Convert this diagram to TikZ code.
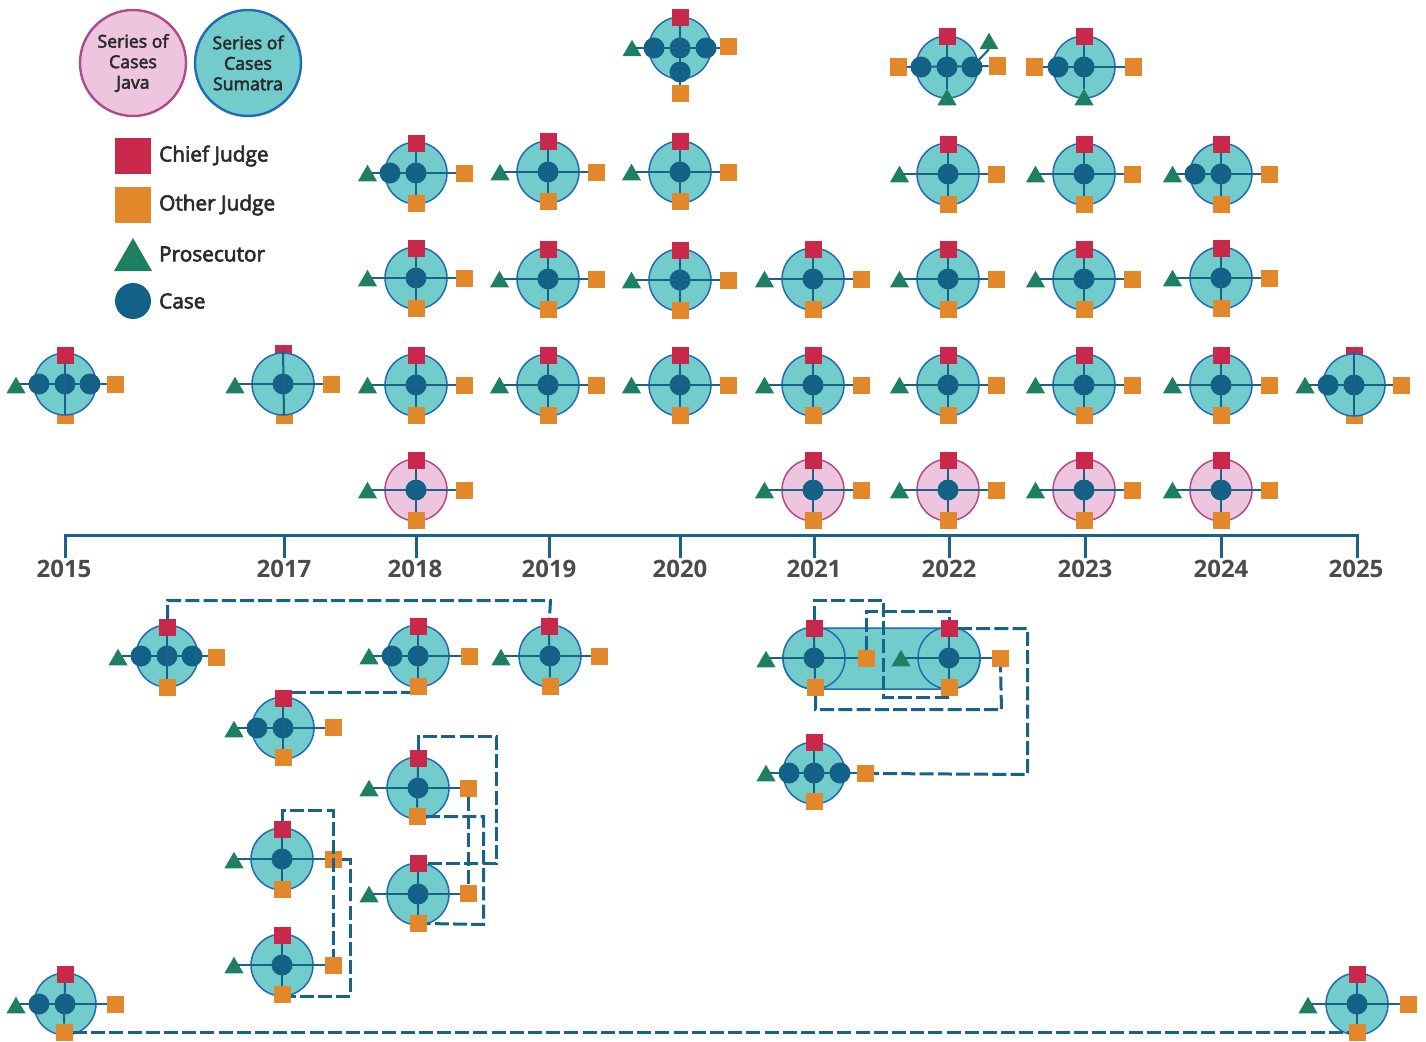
\documentclass[tikz,border=0pt]{standalone}
\usepackage{fontspec}
\setmainfont{Open Sans}
\newfontfamily\medfont[FakeBold=3]{Open Sans}
\usetikzlibrary{shapes.geometric,calc}
\definecolor{chiefc}{HTML}{C9284A}
\definecolor{otherc}{HTML}{E2872A}
\definecolor{prosc}{HTML}{1E7F62}
\definecolor{casec}{HTML}{136187}
\definecolor{linkc}{HTML}{1A6388}
\definecolor{tealf}{HTML}{72CCCC}
\definecolor{teals}{HTML}{2469B3}
\definecolor{pinkf}{HTML}{EEC5DE}
\definecolor{pinks}{HTML}{B04A8A}
\definecolor{textc}{HTML}{2B2B2B}
\tikzset{
 sq/.style={rectangle,draw=none,inner sep=0pt,outer sep=0pt,minimum size=17pt},
 cjsq/.style={sq,fill=chiefc},
 ojsq/.style={sq,fill=otherc},
 pros/.style={regular polygon,regular polygon sides=3,draw=none,fill=prosc,inner sep=0pt,outer sep=0pt,minimum size=22pt,yshift=-2.75pt},
 casedot/.style={circle,draw=none,fill=casec,inner sep=0pt,outer sep=0pt,minimum size=21pt},
 sumatra/.style={circle,draw=teals,fill=tealf,line width=1.5pt,inner sep=0pt,outer sep=0pt,minimum size=62pt},
 java/.style={circle,draw=pinks,fill=pinkf,line width=1.5pt,inner sep=0pt,outer sep=0pt,minimum size=62pt},
 spoke/.style={draw=linkc,line width=2pt},
 link/.style={draw=linkc,line width=3pt,dash pattern=on 14pt off 4.2pt,line join=miter},
 axisline/.style={draw=linkc,line width=3pt},
 yearlab/.style={font=\fontsize{24}{24}\selectfont\bfseries,text=textc!85,inner sep=0pt},
 leglab/.style={font=\medfont\fontsize{20.8}{24}\selectfont,text=textc,anchor=west,inner sep=0pt},
 legdisc/.style={circle,line width=2.4pt,inner sep=0pt,minimum size=106pt,align=center,text=textc,font=\medfont\fontsize{17.7}{20.5}\selectfont},
 halfpx/.style={transform canvas={shift={(0.5pt,-0.5pt)}}},
}
\newif\ifcb
\newif\ifob
% name, centre, disc style, chief, other, right judge, prosecutor
\newcommand\caseunit[7]{%
 \ifcb\node[cjsq] (#1c) at (#4) {};\fi
 \ifob\node[ojsq] (#1o) at (#5) {};\fi
 \node[#3] (#1d) at (#2) {};
 \ifcb\else\node[cjsq] (#1c) at (#4) {};\fi
 \ifob\else\node[ojsq] (#1o) at (#5) {};\fi
 \node[ojsq] (#1r) at (#6) {};
 \node[pros] (#1t) at (#7) {};
 \node[casedot] (#1m) at (#2) {};
 \draw[spoke] ([xshift=4pt]#1t.center |- #1m) -- (#1r.west |- #1m);
 \ifcb\draw[spoke] ([yshift=4pt]#1c.center) -- (#1o.center);
 \else\ifob\draw[spoke] (#1c.south) -- (#1o.center);
 \else\draw[spoke] (#1c.south) -- (#1o.north);\fi\fi
}
\newcommand\std[4]{\caseunit{#1}{#2,#3}{#4}{{#2},{#3-30}}{{#2},{#3+30}}{{#2+48.5},{#3}}{{#2-48.5},{#3}}}
\newcommand\xdisc[2]{\node[casedot] (#1) at (#2) {};}
\begin{document}
\begin{tikzpicture}[x=1pt,y=-1pt]
\useasboundingbox (0,0) rectangle (1426,1041);
% legend
\node[legdisc,draw=pinks,fill=pinkf] (ljava) at (133,63) {\raisebox{-1.5pt}{Series of}\\\raisebox{-1.5pt}{Cases}\\\raisebox{-1.5pt}{Java}};
\node[legdisc,draw=teals,fill=tealf] (lsum) at (248,63) {\raisebox{-1.5pt}{Series of}\\\raisebox{-1.5pt}{Cases}\\\raisebox{-1.5pt}{Sumatra}};
\node[sq,fill=chiefc,minimum size=36pt] (lcj) at (133,156) {};
\node[sq,fill=otherc,minimum size=36pt] (loj) at (133,205) {};
\node[regular polygon,regular polygon sides=3,fill=prosc,inner sep=0pt,minimum size=44pt,yshift=-5.5pt] (lpr) at (133,254.5) {};
\node[casedot,minimum size=36pt] (lca) at (133,301) {};
\node[leglab] (tcj) at (159,156) {Chief Judge};
\node[leglab] (toj) at (159,205) {Other Judge};
\node[leglab] (tpr) at (159,254) {Prosecutor};
\node[leglab] (tca) at (159,301) {Case};
% top specials
\node[sumatra] (u1d) at (680,48) {};
\node[cjsq] (u1c) at (680,18) {};
\node[ojsq] (u1o) at (680,93) {};
\node[ojsq] (u1r) at (728,47) {};
\node[pros] (u1t) at (632,48) {};
\node[casedot] (u1m) at (680,48) {};
\draw[spoke] ([xshift=4pt]u1t.center |- u1m) -- (u1r.west |- u1m);
\draw[spoke] (u1c) -- (u1o);
\xdisc{u1a}{654,48}\xdisc{u1b}{706,48}\xdisc{u1e}{680,72}
%
\node[sumatra] (u2d) at (947,67) {};
\node[cjsq] (u2c) at (947,37) {};
\node[ojsq] (u2l) at (898,67) {};
\node[ojsq] (u2r) at (997,66) {};
\node[pros] (u2t) at (947,97) {};
\node[pros] (u2u) at (989,41) {};
\node[casedot] (u2m) at (947,67) {};
\draw[spoke] (u2l) -- (u2r);
\draw[spoke] (u2c.south) -- (u2t.north);
\xdisc{u2a}{921,67}\xdisc{u2b}{972,67}
\draw[spoke] (u2b.center) -- (u2u.south);
%
\node[sumatra] (u3d) at (1084,67) {};
\node[cjsq] (u3c) at (1084,37) {};
\node[ojsq] (u3l) at (1034,67) {};
\node[ojsq] (u3r) at (1133,67) {};
\node[pros] (u3t) at (1084,97) {};
\node[casedot] (u3m) at (1084,67) {};
\draw[spoke] (u3l) -- (u3r);
\draw[spoke] (u3c.south) -- (u3t.north);
\xdisc{u3a}{1058,67}
% row 173
\std{a1}{416}{173}{sumatra}\xdisc{a1x}{390,173}
\caseunit{a2}{548,172}{sumatra}{548,141}{548,201}{596.5,172}{500,172}
\caseunit{a3}{680,172}{sumatra}{680,141}{680,201}{728.5,172}{631.5,172}
\std{a4}{948}{174}{sumatra}
\std{a5}{1084}{174}{sumatra}
\std{a6}{1221}{174}{sumatra}\xdisc{a6x}{1195,174}
% row 278
\std{b1}{416}{278}{sumatra}
\std{b2}{548}{279}{sumatra}
\std{b3}{680}{280}{sumatra}
\std{b4}{813}{279}{sumatra}
\std{b5}{948}{279}{sumatra}
\std{b6}{1084}{279}{sumatra}
\std{b7}{1221}{278}{sumatra}
% row 385
\obtrue
\caseunit{c0}{65,384}{sumatra}{65,355}{65,415}{115,384}{16,385}\xdisc{c0x}{39,384}\xdisc{c0y}{90,384}
\cbtrue
\caseunit{c1}{283,384}{sumatra}{283,353.5}{284,415}{331,384}{235,385}
\cbfalse\obfalse
\std{c2}{416}{385}{sumatra}
\std{c3}{548}{385}{sumatra}
\std{c4}{680}{385}{sumatra}
\std{c5}{813}{385}{sumatra}
\std{c6}{948}{385}{sumatra}
\std{c7}{1084}{385}{sumatra}
\std{c8}{1221}{385}{sumatra}
\cbtrue\obtrue
\caseunit{c9}{1354,385}{sumatra}{1354,355}{1354,415}{1401,385}{1305,385}\xdisc{c9x}{1328,385}
\cbfalse\obfalse
% row 490
\std{j1}{416}{490}{java}
\std{j2}{813}{490}{java}
\std{j3}{948}{490}{java}
\std{j4}{1084}{490}{java}
\std{j5}{1221}{490}{java}
% timeline
\foreach \nm/\x in {t15/65,t17/284,t18/416,t19/549,t20/680,t21/814,t22/949,t23/1085,t24/1221,t25/1357}{
 \coordinate (\nm) at (\x,535);
 \coordinate (\nm e) at (\x,557);
}
\draw[axisline,halfpx] ([xshift=-1.5pt]t15) -- ([xshift=1.5pt]t25);
\foreach \nm in {t15,t17,t18,t19,t20,t21,t22,t23,t24,t25}{\draw[axisline,halfpx] (\nm) -- (\nm e);}
\foreach \nm/\x/\y in {y15/64/2015,y17/284/2017,y18/415/2018,y19/549/2019,y20/680/2020,y21/814/2021,y22/949/2022,y23/1085/2023,y24/1221/2024,y25/1356/2025}{
 \node[yearlab] (\nm) at (\x,568.5) {\y};
}
% lower units
\caseunit{A}{167,656}{sumatra}{167,627}{167,687}{216,657}{118,657}\xdisc{Ax}{141,656}\xdisc{Ay}{192,656}
\caseunit{B}{418,656}{sumatra}{418,626}{418,686}{469,656}{369,656}\xdisc{Bx}{392,656}
\caseunit{C}{550,656}{sumatra}{549,626}{550,686}{599,656}{501,657}
\caseunit{D}{283,728}{sumatra}{283,698}{283,757}{333,727}{234,729}\xdisc{Dx}{257,728}
\caseunit{E}{418,788}{sumatra}{418,758}{417,816}{468,788}{369,788}
\caseunit{F}{418,894}{sumatra}{418,863}{418,923}{468,893}{369,894}
\caseunit{G}{282,859}{sumatra}{282,829}{282,889}{333,859}{234,860}
\caseunit{H}{282,965}{sumatra}{282,935}{282,994}{333,965}{234,965}
\caseunit{I}{65,1004}{sumatra}{65,974}{64,1032}{115,1004}{16,1005}\xdisc{Ix}{39,1004}
\caseunit{J}{1357,1004}{sumatra}{1357,974}{1357,1032}{1408,1004}{1308,1005}
\node[rectangle,draw=teals,fill=tealf,line width=1.5pt,rounded corners=30.5pt,minimum width=197pt,minimum height=61pt,inner sep=0pt] (KL) at (881.5,658.5) {};
\caseunit{K}{814,658}{sumatra}{814,628}{815,687}{866,658}{766,659}
\caseunit{L}{949,658}{sumatra}{949,628}{949,687}{1000,658}{901,658}
\caseunit{M}{814,773}{sumatra}{814,742}{814,801}{865,773}{766,773}\xdisc{Mx}{789,773}\xdisc{My}{840,773}
% dashed connectors
\begin{scope}[halfpx]
\draw[link] (Ac.north) |- (550,600) -- (Cc.north);
\draw[link] (Dc.east |- 0,692) -- (Bo.west |- 0,692);
\draw[link] (Ec.north) |- (496,736) |- (Fc.east);
\draw[link] (Eo.east) -| (483,924) -- (Fo.east);
\draw[link] (Er.south) -- (Fr.north);
\draw[link] (Gc.north) |- (333,810) -- (Hr.north);
\draw[link] (Gr.east) -| (350,996) -- (Ho.east |- 0,996);
\draw[link] (Io.east) -- (Jo.west);
\draw[link] (Kc.north) |- (883,600) |- (949,697);
\draw[link] (Kr.north) |- (949,611) -- (Lc.north);
\draw[link] (Ko.south) |- (1001,709) -- (Lr.south);
\draw[link] (Lc.east) -| (1027,774) -- (Mr.east);
\end{scope}
\end{tikzpicture}
\end{document}
